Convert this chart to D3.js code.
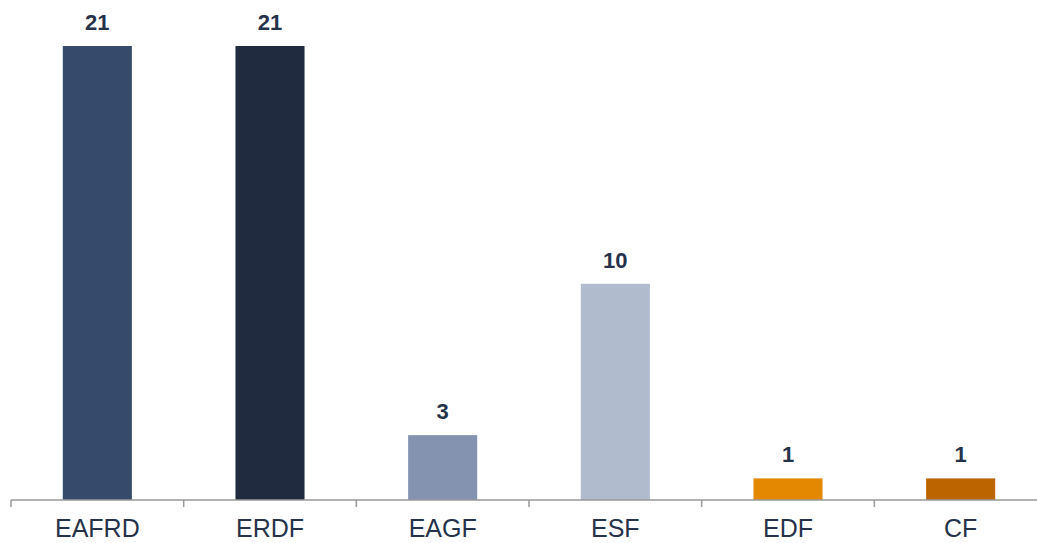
<!DOCTYPE html>
<html><head><meta charset="utf-8">
<script src="https://cdn.jsdelivr.net/npm/d3@7"></script>
<style>body{margin:0;background:#fff}svg{display:block}</style>
</head><body>
<svg id="c" width="1037" height="543"></svg>
<script>
const categories = ["EAFRD","ERDF","EAGF","ESF","EDF","CF"];
const values = [21,21,3,10,1,1];
const colors = ["#364a6b","#212b3f","#8393b0","#b0bccd","#e38800","#bb6400"];

const svg = d3.select("#c");
const x = d3.scaleBand().domain(categories).range([11,1047]).paddingInner(0.6).paddingOuter(0.3);
const y = d3.scaleLinear().domain([0,21]).range([500,46]);

svg.selectAll("rect.bar").data(categories).join("rect")
  .attr("x", d=>x(d)).attr("width", x.bandwidth())
  .attr("y", (d,i)=>y(values[i])).attr("height",(d,i)=>y(0)-y(values[i]))
  .attr("fill",(d,i)=>colors[i]);

svg.selectAll("text.val").data(categories).join("text")
  .attr("x", d=>x(d)+x.bandwidth()/2).attr("y",(d,i)=>y(values[i])-16)
  .attr("text-anchor","middle").attr("font-family","Liberation Sans, Arial, sans-serif")
  .attr("font-weight","bold").attr("font-size",22).attr("fill","#25324a")
  .text((d,i)=>values[i]);

// axis
const g = svg.append("g");
g.append("line").attr("x1",11).attr("x2",1047).attr("y1",500).attr("y2",500).attr("stroke","#999").attr("stroke-width",1.5);
const step = x.step();
const tickPos = d3.range(categories.length+1).map(i=>11+i*step);
g.selectAll("line.tick").data(tickPos).join("line")
  .attr("x1",d=>d).attr("x2",d=>d).attr("y1",500).attr("y2",507).attr("stroke","#999").attr("stroke-width",1.5);
g.selectAll("text.cat").data(categories).join("text")
  .attr("x", d=>x(d)+x.bandwidth()/2).attr("y",537)
  .attr("text-anchor","middle").attr("font-family","Liberation Sans, Arial, sans-serif")
  .attr("font-size",25).attr("fill","#25324a").text(d=>d);
</script>
</body></html>
